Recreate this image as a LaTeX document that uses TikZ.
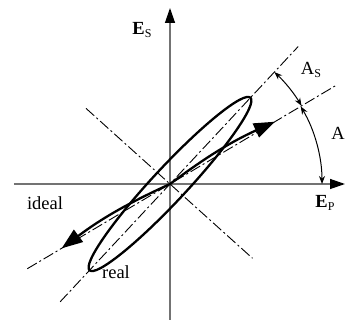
\documentclass[tikz,border=0pt]{standalone}
\usepackage{fontspec}
\setmainfont{Liberation Serif}
\usetikzlibrary{arrows.meta}
\newcommand\lowsub[1]{\raisebox{-0.3ex}{\fontsize{12}{12}\selectfont #1}}
\begin{document}
\begin{tikzpicture}[x=1pt,y=1pt,
  axis/.style={draw=black!55, line width=1.3pt},
  dashdot/.style={line width=0.9pt, dash pattern=on 11pt off 3pt on 2pt off 3pt},
  thickline/.style={line width=2.3pt},
  lbl/.style={font=\fontsize{18.5}{20}\selectfont, inner sep=0pt},
  angarrow/.style={line width=1pt, {Stealth[length=8pt,width=6pt]}-{Stealth[length=8pt,width=6pt]}}]
\useasboundingbox (-170,-136) rectangle (175,184);
\coordinate (O) at (0,0);
\coordinate (hL) at (-156,0); \coordinate (hR) at (175,0);
\coordinate (vB) at (0,-136); \coordinate (vT) at (0,176);
\draw[axis, -{Triangle[length=15pt,width=10pt,color=black]}] (hL) -- (hR);
\draw[axis, -{Triangle[length=15pt,width=10pt,color=black]}] (vB) -- (vT);
% dash-dot lines
\coordinate (iL) at (210.7:166); \coordinate (iR) at (30.7:194);
\coordinate (mL) at (227:161); \coordinate (mR) at (47:188);
\coordinate (pL) at (138:113); \coordinate (pR) at (-42:111);
\draw[dashdot] (iL) -- (iR);
\draw[dashdot] (mL) -- (mR);
\draw[dashdot] (pL) -- (pR);
% ellipse (real)
\draw[thickline, rotate around={47:(O)}] (O) ellipse[x radius=118, y radius=17];
% ideal arrow
\coordinate (lo) at (210.7:126);
\coordinate (up) at (30.7:122);
\draw[thickline, {Triangle[length=21pt,width=15pt]}-{Triangle[length=21pt,width=15pt]}]
  (lo) to[bend left=6] (O) to[bend left=6] (up);
% angle arcs
\coordinate (a0) at (0:152);
\coordinate (b0) at (30.7:153);
\draw[angarrow] (a0) arc[start angle=0, end angle=30.7, radius=152];
\draw[angarrow] (b0) arc[start angle=30.7, end angle=47, radius=153];
% labels
\node[lbl] (Es) at (-28,154) {\textbf{E}\lowsub{S}};
\node[lbl] (Ep) at (155,-19) {\textbf{E}\lowsub{P}};
\node[lbl] (As) at (141,114) {A\lowsub{S}};
\node[lbl] (A) at (168,51) {A};
\node[lbl] (ideal) at (-125,-19) {ideal};
\node[lbl] (real) at (-54,-88) {real};
\end{tikzpicture}
\end{document}
